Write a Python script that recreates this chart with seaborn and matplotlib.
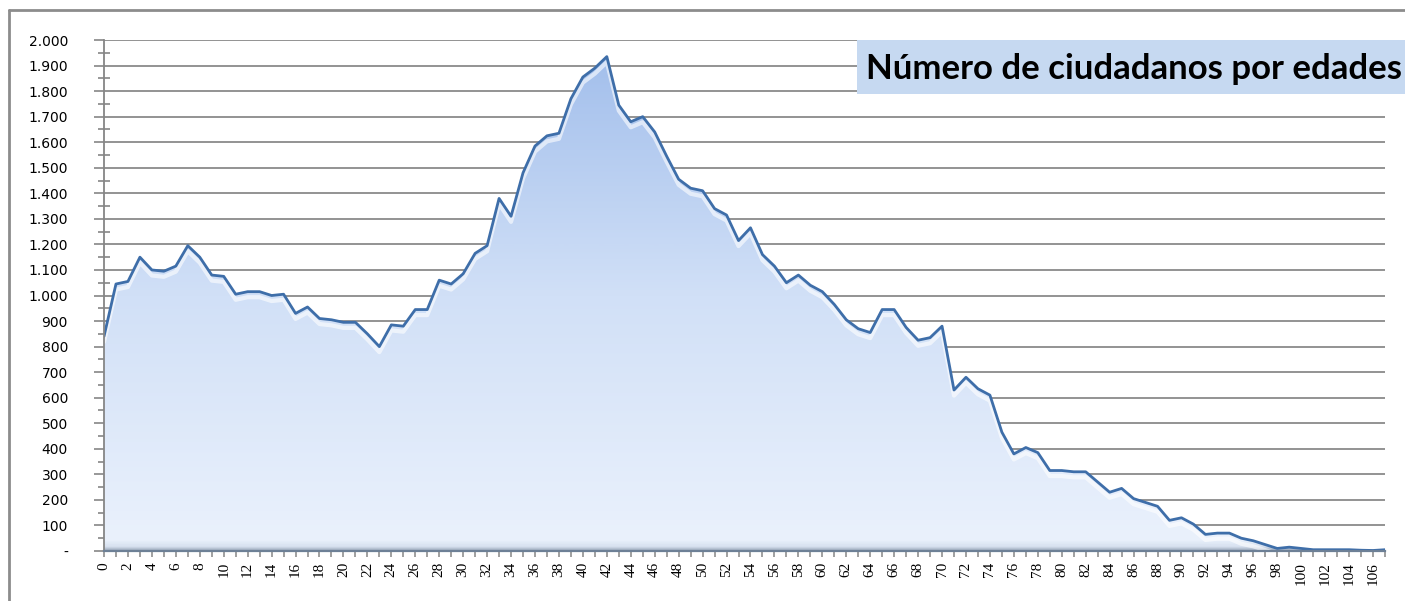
import numpy as np
import pandas as pd
import matplotlib
matplotlib.use("Agg")
import matplotlib.pyplot as plt
import seaborn as sns
from matplotlib.colors import LinearSegmentedColormap
from matplotlib.ticker import FuncFormatter, MultipleLocator
from matplotlib.patches import Rectangle
from matplotlib.lines import Line2D
import matplotlib.transforms as mtransforms

# ---- data ----
ages = list(range(0, 108))
ciudadanos = [
    840, 1045, 1055, 1150, 1100, 1095, 1115, 1195, 1150, 1080,
    1075, 1005, 1015, 1015, 1000, 1005, 930, 955, 910, 905,
    895, 895, 850, 800, 885, 880, 945, 945, 1060, 1045,
    1085, 1165, 1195, 1380, 1310, 1480, 1585, 1625, 1635, 1770,
    1855, 1890, 1935, 1745, 1680, 1700, 1640, 1545, 1455, 1420,
    1410, 1340, 1315, 1215, 1265, 1160, 1115, 1050, 1080, 1040,
    1015, 965, 905, 870, 855, 945, 945, 875, 825, 835,
    880, 630, 680, 635, 610, 465, 380, 405, 385, 315,
    315, 310, 310, 270, 230, 245, 205, 190, 175, 120,
    130, 105, 65, 70, 70, 50, 40, 25, 10, 15,
    10, 5, 5, 5, 5, 3, 2, 5,
]
y_ticks = list(range(0, 2001, 100))
x_ticks = list(range(0, 107, 2))
title = "Número de ciudadanos por edades"

sns.set_theme(style="white")
plt.rcParams['font.family'] = ['DejaVu Sans']

W, H = 1405, 601
fig = plt.figure(figsize=(W / 100, H / 100), dpi=100)
fig.patch.set_facecolor("white")
ax = fig.add_axes([104 / W, (H - 551) / H, (1385 - 104) / W, (551 - 40) / H])
ax.set_facecolor("white")

df = pd.DataFrame({"edad": ages, "ciudadanos": ciudadanos})

# area with vertical gradient
poly = ax.fill_between(df["edad"], df["ciudadanos"], 0, color="none", lw=0, zorder=2)
cmap = LinearSegmentedColormap.from_list(
    "grad",
    [(0.0, "#aab6c8"), (0.006, "#d8e2f0"), (0.02, "#eaf1fc"),
     (0.5, "#d1e0f7"), (1.0, "#a0bdeb")])
grad = np.linspace(0, 1, 600).reshape(-1, 1)
im = ax.imshow(grad, cmap=cmap, aspect="auto", extent=[0, 107, 0, 2000],
               origin="lower", zorder=2, interpolation="bilinear")
im.set_clip_path(poly.get_paths()[0], transform=ax.transData)

# white bevel highlight just below the line
off = mtransforms.ScaledTranslation(0, -4 / 72, fig.dpi_scale_trans)
hl, = ax.plot(df["edad"], df["ciudadanos"], color="white", lw=3, alpha=0.6,
              transform=ax.transData + off, zorder=3, solid_joinstyle="round")
hl.set_clip_path(poly.get_paths()[0], transform=ax.transData)

# main line
sns.lineplot(data=df, x="edad", y="ciudadanos", color="#3e6ea9", lw=2.0,
             ax=ax, zorder=4)

ax.set_xlim(0, 107)
ax.set_ylim(0, 2000)
ax.set_xlabel("")
ax.set_ylabel("")

# grid
ax.set_yticks(y_ticks)
ax.yaxis.set_minor_locator(MultipleLocator(50))
ax.yaxis.grid(True, which="major", color="#8a8a8a", lw=1.3)
ax.xaxis.grid(False)
ax.set_axisbelow(True)

ax.yaxis.set_major_formatter(FuncFormatter(
    lambda v, p: "-" if v == 0 else f"{int(v):,}".replace(",", ".")))

ax.set_xticks(x_ticks)
ax.set_xticklabels([str(a) for a in x_ticks], rotation=90,
                   fontfamily="Liberation Serif", fontsize=11)
ax.xaxis.set_minor_locator(MultipleLocator(1))

ax.tick_params(axis="y", which="major", direction="out", length=7, width=1.2,
               color="#868686", labelsize=10, pad=19, labelcolor="black", left=True)
ax.tick_params(axis="y", which="minor", direction="inout", length=8, width=1.2,
               color="#868686", left=True)
ax.tick_params(axis="x", which="both", direction="out", length=4, width=1.1,
               color="#868686", pad=4, labelcolor="black", bottom=True)

for s in ["top", "right"]:
    ax.spines[s].set_visible(False)
ax.spines["left"].set_color("#868686")
ax.spines["left"].set_linewidth(1.3)
ax.spines["bottom"].set_color("#6d8096")
ax.spines["bottom"].set_linewidth(1.6)
ax.spines["left"].set_zorder(5)
ax.spines["bottom"].set_zorder(5)

# title box
fig.patches.append(Rectangle((857 / W, (H - 94) / H), (W - 857) / W, 54 / H,
                             transform=fig.transFigure, facecolor="#c6d9f1",
                             edgecolor="none", zorder=10))
fig.text(866 / W, (H - 69) / H, title, fontfamily="Lato", fontweight="bold",
         fontsize=25, color="black", ha="left", va="center", zorder=11)

# outer frame (left and top edges visible)
fig.lines.append(Line2D([9 / W, 9 / W], [0, (H - 10) / H], transform=fig.transFigure,
                        color="#8c8c8c", lw=2))
fig.lines.append(Line2D([9 / W, 1], [(H - 10) / H, (H - 10) / H],
                        transform=fig.transFigure, color="#8c8c8c", lw=2))

fig.savefig("out.png", dpi=100)
